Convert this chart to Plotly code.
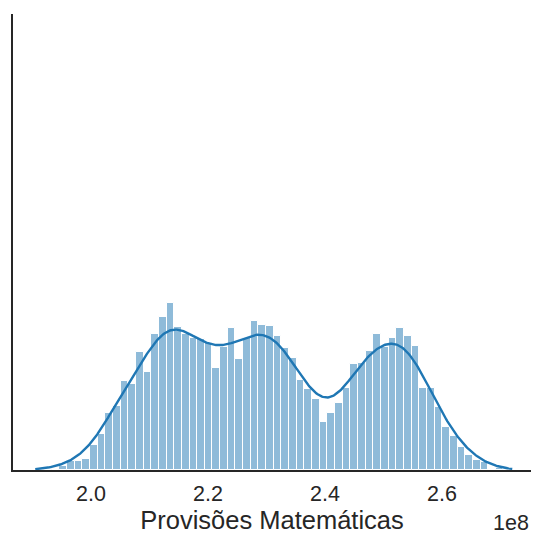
import numpy as np
import plotly.graph_objects as go

# Histogram of "Provisões Matemáticas" (x in units of 1e8), 60 equal bins
bin_start = 1.9197
bin_width = 0.01309
counts = [
    1, 1.5, 4.3, 9.3, 9.3, 11.3, 25, 36, 57, 64,
    89, 86, 118, 98, 136, 153, 167, 143, 136, 132,
    131, 127, 102, 123, 142, 111, 132, 149, 145, 144,
    134, 122, 112, 90, 81, 71, 48, 57, 67, 82,
    106, 107, 119, 136, 123, 132, 142, 134, 124, 82,
    82, 63, 43, 34, 23, 15, 10, 8, 0, 2,
]
tick_vals = [2.0, 2.2, 2.4, 2.6]
tick_text = ["2.0", "2.2", "2.4", "2.6"]
x_label = "Provisões Matemáticas"
offset_label = "1e8"

# KDE bandwidth and how far the curve extends past the data (in bandwidths)
kde_bw = 0.030
kde_cut = 0.5

counts_arr = np.array(counts, dtype=float)
centers = bin_start + bin_width * (np.arange(len(counts)) + 0.5)
bin_end = bin_start + bin_width * len(counts)

# Gaussian KDE of the binned sample, scaled to histogram counts
grid = np.linspace(bin_start - kde_cut * kde_bw, bin_end + kde_cut * kde_bw, 500)
z = (grid[:, None] - centers[None, :]) / kde_bw
kde = bin_width * (counts_arr[None, :] * np.exp(-0.5 * z ** 2)).sum(axis=1) / (kde_bw * np.sqrt(2 * np.pi))

blue = "#1f77b4"
axis_col = "#262626"
font_family = "Liberation Sans, Arial, sans-serif"

fig = go.Figure()
fig.add_trace(go.Bar(
    x=centers, y=counts_arr, width=bin_width,
    marker=dict(color="rgba(31,119,180,0.5)", line=dict(color="white", width=1)),
    hoverinfo="skip",
))
fig.add_trace(go.Scatter(
    x=grid, y=kde, mode="lines",
    line=dict(color=blue, width=2.4),
    hoverinfo="skip",
))

W, H = 536, 539
ml, mr, mt, mb = 13, 5, 14, 69
px_per_unit = 585.0
x_at_2 = 91.0
x0 = 2.0 + (ml - x_at_2) / px_per_unit
x1 = 2.0 + (W - mr - x_at_2) / px_per_unit
plot_h = H - mt - mb
y_top = 456.0

fig.update_layout(
    width=W, height=H,
    margin=dict(l=ml, r=mr, t=mt, b=mb),
    paper_bgcolor="white", plot_bgcolor="white",
    showlegend=False, bargap=0,
    font=dict(family=font_family, color=axis_col),
    xaxis=dict(
        range=[x0, x1], showgrid=False, zeroline=False,
        showline=True, linecolor=axis_col, linewidth=1.8,
        tickvals=tick_vals, ticktext=tick_text,
        ticks="outside", ticklen=3, tickcolor="rgba(0,0,0,0)",
        tickfont=dict(size=21.5, color=axis_col),
        title=dict(text=x_label, font=dict(size=25.5, color=axis_col), standoff=2),
    ),
    yaxis=dict(
        range=[0, y_top], showgrid=False, zeroline=False,
        showline=True, linecolor=axis_col, linewidth=1.8,
        showticklabels=False, ticks="",
    ),
    annotations=[dict(
        text=offset_label, xref="paper", yref="paper",
        x=1.0, y=(-(523 - (mt + plot_h)) / plot_h),
        xanchor="right", yanchor="middle", showarrow=False,
        font=dict(size=21.5, color=axis_col, family=font_family),
    )],
)

fig.write_html("out.html")
